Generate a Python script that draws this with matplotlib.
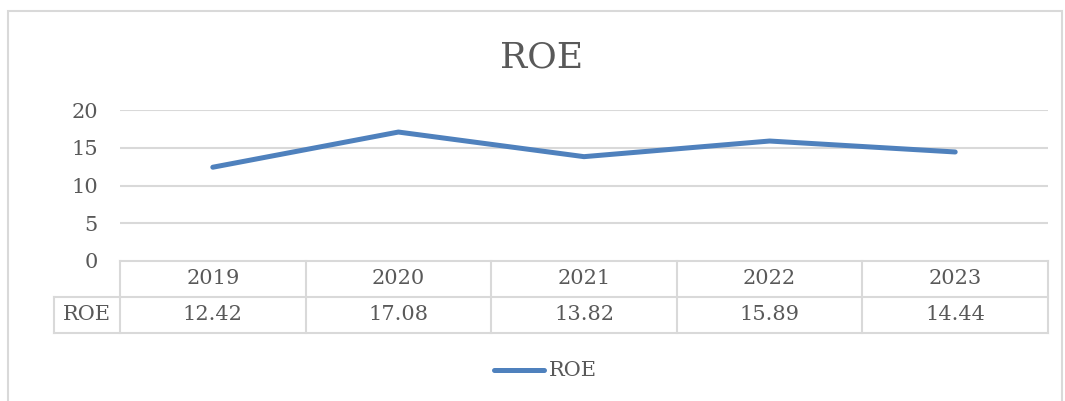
import matplotlib
matplotlib.use("Agg")
import matplotlib.pyplot as plt
from matplotlib.patches import Rectangle

years = ["2019", "2020", "2021", "2022", "2023"]
roe = [12.42, 17.08, 13.82, 15.89, 14.44]
roe_labels = ["12.42", "17.08", "13.82", "15.89", "14.44"]
yticks = [0, 5, 10, 15, 20]

W, H = 1065, 401
plt.rcParams['font.family'] = ['DejaVu Serif']
txt = '#595959'
grid = '#d9d9d9'
blue = '#4f81bd'

fig = plt.figure(figsize=(W / 100, H / 100), dpi=100)

def box(x0, y0, x1, y1):
    # pixel coords (top-left origin) -> figure fraction rect
    return [x0 / W, 1 - y1 / H, (x1 - x0) / W, (y1 - y0) / H]

# outer chart border
fig.patches.append(Rectangle((8 / W, -0.1), (1062 - 8) / W, 1 - 11 / H + 0.1,
                             transform=fig.transFigure, fill=False,
                             edgecolor=grid, linewidth=1.5))

fig.text(542 / W, 1 - 57 / H, "ROE", ha='center', va='center', fontsize=26, color=txt)

# main line plot
ax = fig.add_axes(box(120, 110, 1048, 261))
ax.plot(range(len(years)), roe, color=blue, linewidth=3.6, solid_capstyle='round')
ax.set_xlim(-0.5, len(years) - 0.5)
ax.set_ylim(0, 20)
ax.set_yticks(yticks)
ax.set_yticklabels([str(t) for t in yticks], fontsize=15, color=txt)
ax.tick_params(axis='y', length=0, pad=16)
ax.set_xticks([])
for t in yticks[1:]:
    ax.axhline(t, color=grid, linewidth=1.5, zorder=0)
for s in ax.spines.values():
    s.set_visible(False)

# data table
tb = fig.add_axes(box(120, 261, 1048, 333))
tb.set_xlim(-0.5, len(years) - 0.5)
tb.set_ylim(2, 0)
tb.axis('off')
lab_w = 66 / (928 / len(years))
lc = dict(color=grid, linewidth=1.5, clip_on=False)
tb.plot([-0.5, len(years) - 0.5], [0, 0], **lc)
tb.plot([-0.5 - lab_w, len(years) - 0.5], [1, 1], **lc)
tb.plot([-0.5 - lab_w, len(years) - 0.5], [2, 2], **lc)
tb.plot([-0.5 - lab_w, -0.5 - lab_w], [1, 2], **lc)
for i in range(len(years) + 1):
    tb.plot([i - 0.5, i - 0.5], [0, 2], **lc)
for i, (y, v) in enumerate(zip(years, roe_labels)):
    tb.text(i, 0.5, y, ha='center', va='center', fontsize=15, color=txt)
    tb.text(i, 1.5, v, ha='center', va='center', fontsize=15, color=txt)
tb.text(-0.5 - lab_w / 2, 1.5, "ROE", ha='center', va='center', fontsize=15, color=txt)

# legend
fig.lines.append(plt.Line2D([494 / W, 544 / W], [1 - 370 / H] * 2, transform=fig.transFigure,
                            color=blue, linewidth=3.6, solid_capstyle='round'))
fig.text(549 / W, 1 - 370 / H, "ROE", ha='left', va='center', fontsize=15, color=txt)

fig.savefig("out.png", dpi=100)
